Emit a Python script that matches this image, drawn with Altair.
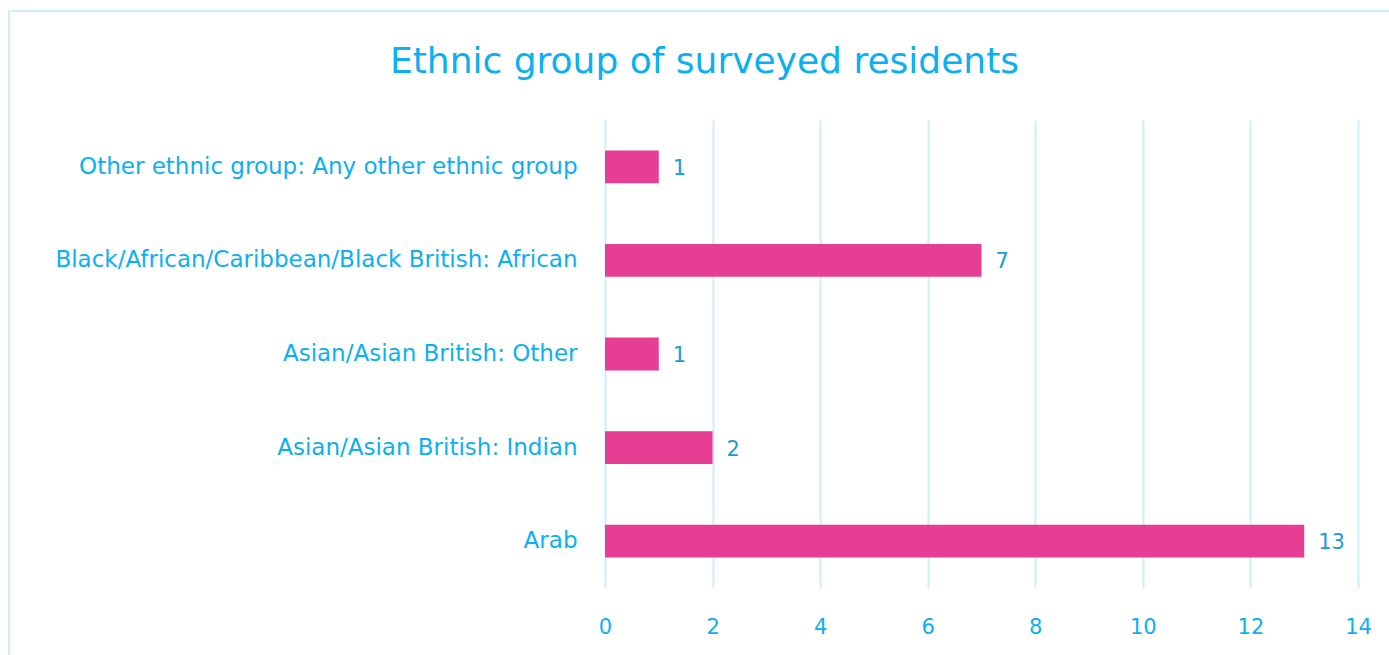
import altair as alt
import pandas as pd

categories = [
    "Other ethnic group: Any other ethnic group",
    "Black/African/Caribbean/Black British: African",
    "Asian/Asian British: Other",
    "Asian/Asian British: Indian",
    "Arab",
]
counts = [1, 7, 1, 2, 13]
x_ticks = [0, 2, 4, 6, 8, 10, 12, 14]

df = pd.DataFrame({"group": categories, "count": counts})

FONT = "DejaVu Sans"
LABEL_BLUE = "#0bb0f2"
VALUE_BLUE = "#1b9ad8"
BAR = "#e63e93"
GRID = "#cdeefc"

y_enc = alt.Y(
    "group:N",
    sort=categories,
    title=None,
    scale=alt.Scale(paddingInner=0.65, paddingOuter=0.325),
    axis=alt.Axis(
        labelFont=FONT, labelFontSize=23, labelColor=LABEL_BLUE,
        labelPadding=28, ticks=False, domain=False, grid=False, labelLimit=700,
    ),
)
x_enc = alt.X(
    "count:Q",
    title=None,
    scale=alt.Scale(domain=[0, 14], nice=False),
    axis=alt.Axis(
        values=x_ticks, labelFont=FONT, labelFontSize=21, labelColor=LABEL_BLUE,
        labelPadding=28, labelFlush=False, ticks=False, domain=False, grid=True,
        gridColor=GRID, gridWidth=2, gridOpacity=1,
    ),
)

bars = alt.Chart(df).mark_bar(color=BAR).encode(x=x_enc, y=y_enc)
text = alt.Chart(df).mark_text(
    align="left", baseline="middle", dx=14, dy=2, font=FONT, fontSize=21, color=VALUE_BLUE
).encode(x="count:Q", y=alt.Y("group:N", sort=categories), text="count:Q")

border = alt.Chart(pd.DataFrame({"a": [0]})).mark_rect(
    fill=None, stroke=GRID, strokeWidth=2
).encode(
    x=alt.value(-596), x2=alt.value(800), y=alt.value(-109), y2=alt.value(560)
)

chart = alt.layer(border, bars, text).properties(
    width=753,
    height=468,
    autosize=alt.AutoSizeParams(type="none"),
    padding={"left": 605, "top": 120, "right": 31, "bottom": 67},
    title=alt.TitleParams(
        "Ethnic group of surveyed residents",
        font=FONT, fontSize=36, fontWeight="normal", color=LABEL_BLUE,
        anchor="middle", frame="group", dx=-277, offset=-71,
    ),
).configure_view(strokeWidth=0)

chart.save("out.html", embed_options={"renderer": "svg", "actions": False})
